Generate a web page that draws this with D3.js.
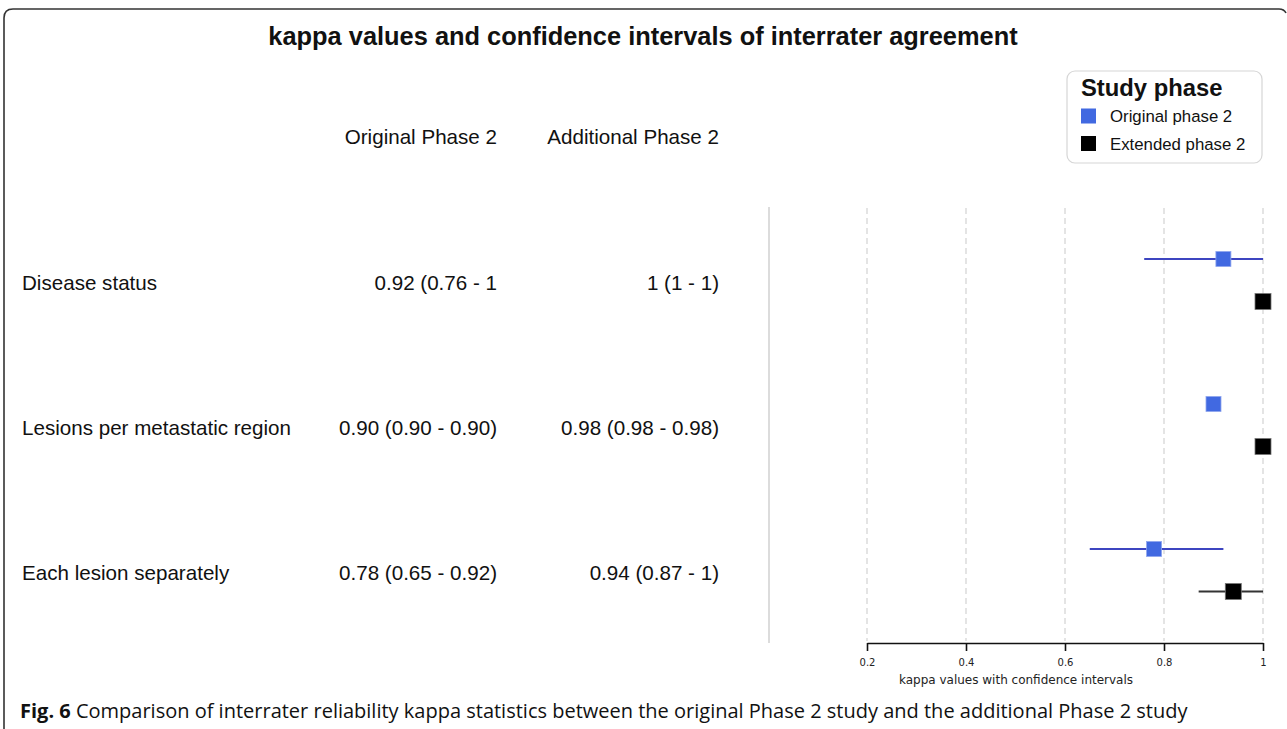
<!DOCTYPE html>
<html><head><meta charset="utf-8">
<script src="https://cdn.jsdelivr.net/npm/d3@7"></script>
<style>
html,body{margin:0;padding:0;background:#fff;}
svg{display:block;}
</style></head>
<body>
<svg id="chart" width="1287" height="729"></svg>
<script>
// ---- data ----
const categories = ["Disease status", "Lesions per metastatic region", "Each lesion separately"];
const originalLabels = ["0.92 (0.76 - 1", "0.90 (0.90 - 0.90)", "0.78 (0.65 - 0.92)"];
const additionalLabels = ["1 (1 - 1)", "0.98 (0.98 - 0.98)", "0.94 (0.87 - 1)"];
const originalKappa = [0.92, 0.90, 0.78];
const originalLow = [0.76, 0.90, 0.65];
const originalHigh = [1.0, 0.90, 0.92];
const extendedKappa = [1.0, 1.0, 0.94];
const extendedLow = [1.0, 1.0, 0.87];
const extendedHigh = [1.0, 1.0, 1.0];
const xTicks = [0.2, 0.4, 0.6, 0.8, 1];
const xTickLabels = ["0.2", "0.4", "0.6", "0.8", "1"];
const legendLabels = ["Original phase 2", "Extended phase 2"];
const columnHeaders = ["Original Phase 2", "Additional Phase 2"];

// ---- layout ----
const svg = d3.select("#chart");
const F = "'Liberation Sans', Arial, sans-serif";
const FA = "'DejaVu Sans', Verdana, sans-serif";
const x = d3.scaleLinear().domain([0.2, 1]).range([867, 1263]);
const y = d3.scalePoint().domain(categories).range([283, 573]);
const offBlue = -24, offBlack = 18.5;
const colBlue = "#4169E1", lineBlue = "#3D45C0", colBlack = "#000";
const FS = 20.6;

// frame
svg.append("path")
  .attr("d", "M4,729 L4,18 Q4,9 13,9 L1279,9 Q1284,9 1286,13")
  .attr("fill", "none").attr("stroke", "#333").attr("stroke-width", 1.6);

// title
svg.append("text").attr("x", 643).attr("y", 45).attr("text-anchor", "middle")
  .attr("font-family", F).attr("font-weight", "bold").attr("font-size", 25.4)
  .attr("fill", "#111").text("kappa values and confidence intervals of interrater agreement");

// column headers
const colX = [497, 719];
columnHeaders.forEach((h, i) => {
  svg.append("text").attr("x", colX[i]).attr("y", 144).attr("text-anchor", "end")
    .attr("font-family", F).attr("font-size", FS).attr("fill", "#111").text(h);
});

// row labels and values
const rows = svg.append("g");
categories.forEach((c, i) => {
  const yy = y(c) + 7;
  rows.append("text").attr("x", 22).attr("y", yy).attr("font-family", F).attr("font-size", FS).attr("fill", "#111").text(c);
  rows.append("text").attr("x", colX[0]).attr("y", yy).attr("text-anchor", "end").attr("font-family", F).attr("font-size", FS).attr("fill", "#111").text(originalLabels[i]);
  rows.append("text").attr("x", colX[1]).attr("y", yy).attr("text-anchor", "end").attr("font-family", F).attr("font-size", FS).attr("fill", "#111").text(additionalLabels[i]);
});

// separator
svg.append("line").attr("x1", 769).attr("x2", 769).attr("y1", 207).attr("y2", 643)
  .attr("stroke", "#d0d0d0").attr("stroke-width", 1.5);

// grid
svg.append("g").selectAll("line").data(xTicks).join("line")
  .attr("x1", d => x(d)).attr("x2", d => x(d)).attr("y1", 208).attr("y2", 641)
  .attr("stroke", "#dcdcdc").attr("stroke-width", 1.5).attr("stroke-dasharray", "6,4");

// axis
const axis = d3.axisBottom(x).tickValues(xTicks).tickFormat((d, i) => xTickLabels[i]).tickSize(8).tickSizeOuter(0).tickPadding(8);
const ag = svg.append("g").attr("transform", "translate(0,643)").call(axis);
ag.select(".domain").attr("stroke", "#111").attr("stroke-width", 1.6);
ag.selectAll(".tick line").attr("stroke", "#111").attr("stroke-width", 1.6);
ag.selectAll(".tick text").attr("font-family", FA).attr("font-size", 10).attr("fill", "#222");
svg.append("text").attr("x", 1016).attr("y", 684).attr("text-anchor", "middle")
  .attr("font-family", FA).attr("font-size", 12).attr("fill", "#222").text("kappa values with confidence intervals");

// CI lines and points
const marks = svg.append("g");
categories.forEach((c, i) => {
  const yb = y(c) + offBlue, yk = y(c) + offBlack;
  if (originalHigh[i] > originalLow[i])
    marks.append("line").attr("x1", x(originalLow[i])).attr("x2", x(originalHigh[i])).attr("y1", yb).attr("y2", yb)
      .attr("stroke", lineBlue).attr("stroke-width", 2.2);
  if (extendedHigh[i] > extendedLow[i])
    marks.append("line").attr("x1", x(extendedLow[i])).attr("x2", x(extendedHigh[i])).attr("y1", yk).attr("y2", yk)
      .attr("stroke", "#333").attr("stroke-width", 2.2);
  marks.append("rect").attr("x", x(originalKappa[i]) - 7.5).attr("y", yb - 7.5).attr("width", 15).attr("height", 15)
    .attr("fill", colBlue).attr("stroke", "#8fa6ee").attr("stroke-width", 0.8);
  marks.append("rect").attr("x", x(extendedKappa[i]) - 8).attr("y", yk - 8).attr("width", 16).attr("height", 16)
    .attr("fill", colBlack).attr("stroke", "#777").attr("stroke-width", 0.8);
});

// legend
const lg = svg.append("g");
lg.append("rect").attr("x", 1067).attr("y", 71).attr("width", 195).attr("height", 92).attr("rx", 8)
  .attr("fill", "#fff").attr("stroke", "#d6d6d6").attr("stroke-width", 1.2);
lg.append("text").attr("x", 1081).attr("y", 96).attr("font-family", F).attr("font-weight", "bold").attr("font-size", 23.8).attr("fill", "#111").text("Study phase");
const legCols = [colBlue, colBlack];
legendLabels.forEach((l, i) => {
  const cy = 116 + i * 27.5;
  lg.append("rect").attr("x", 1081).attr("y", cy - 7.5).attr("width", 15).attr("height", 15).attr("fill", legCols[i]);
  lg.append("text").attr("x", 1110).attr("y", cy + 6).attr("font-family", F).attr("font-size", 16.8).attr("fill", "#111").text(l);
});

// caption
const cap = svg.append("text").attr("x", 20).attr("y", 718).attr("font-family", "'Open Sans', 'Noto Sans', sans-serif").attr("font-size", 20).attr("fill", "#111");
cap.append("tspan").attr("font-weight", "bold").text("Fig. 6");
cap.append("tspan").text(" Comparison of interrater reliability kappa statistics between the original Phase 2 study and the additional Phase 2 study");
</script>
</body></html>
